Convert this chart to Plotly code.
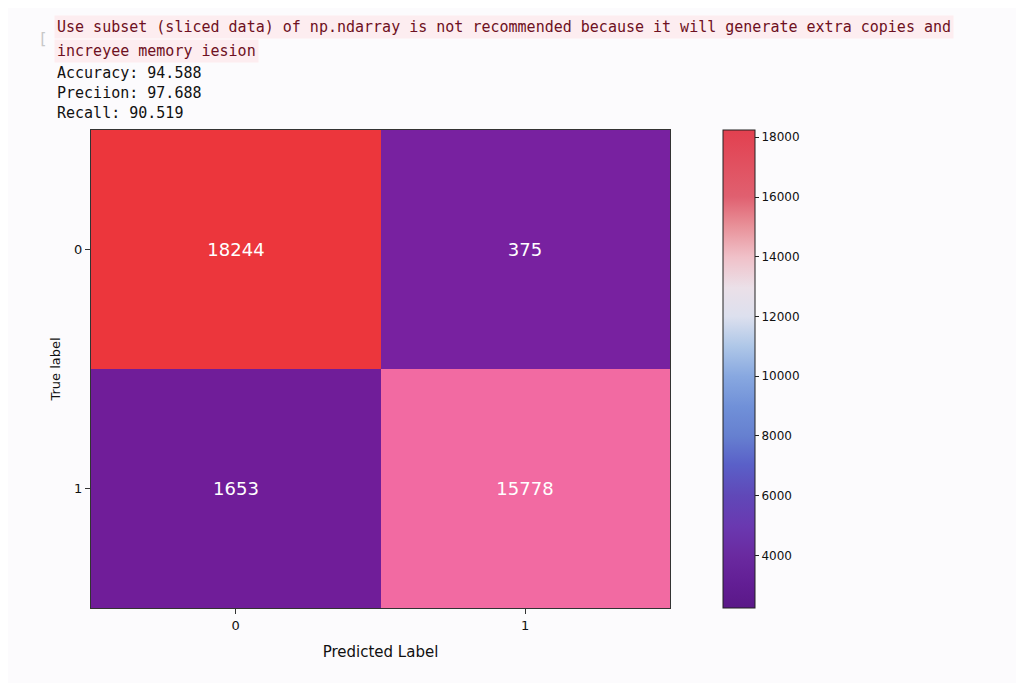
import plotly.graph_objects as go

# confusion matrix values
classes = ["0", "1"]
cm_values = [[18244, 375],
             [1653, 15778]]

# printed metrics above the plot
warning_lines = [
    "Use subset (sliced data) of np.ndarray is not recommended because it will generate extra copies and",
    "increyee memory iesion",
]
metric_lines = ["Accuracy: 94.588", "Preciion: 97.688", "Recall: 90.519"]

cbar_min, cbar_max = 2240, 18244
cbar_ticks = [4000, 6000, 8000, 10000, 12000, 14000, 16000, 18000]

W, H = 1024, 683
OFF = 8  # page body margin
L, R, T, B = 91 - OFF, 670 - OFF, 130 - OFF, 608 - OFF


def px(x):
    return (x - OFF - L) / (R - L)


def py(y):
    return (B - (y - OFF)) / (B - T)


fig = go.Figure()

# cells
fig.add_trace(go.Heatmap(
    z=cm_values, x=classes, y=classes,
    zmin=0, zmax=max(max(r) for r in cm_values),
    colorscale=[[0.0, "#7a22a2"], [0.1, "#6f1c98"], [0.5, "#b8449e"],
                [0.865, "#f26aa2"], [1.0, "#ec363c"]],
    showscale=False,
    texttemplate="%{z:d}",
    textfont=dict(family="DejaVu Sans", size=18, color="white"),
    hovertemplate="True: %{y}<br>Pred: %{x}<br>%{z}<extra></extra>",
))

# colorbar only
fig.add_trace(go.Scatter(
    x=[None], y=[None], mode="markers", showlegend=False,
    marker=dict(
        color=[cbar_min], cmin=cbar_min, cmax=cbar_max,
        colorscale=[[0.0, "#5a1888"], [0.05, "#621e94"], [0.11, "#6a2aa0"],
                    [0.17, "#6a38b0"], [0.235, "#6048b8"], [0.30, "#5a60c8"],
                    [0.36, "#6680d0"], [0.42, "#7090d8"], [0.485, "#88a8e0"],
                    [0.55, "#b0c8e8"], [0.61, "#dde0ee"], [0.67, "#ebe0e8"],
                    [0.735, "#f0c0c8"], [0.80, "#e89098"], [0.86, "#e06070"],
                    [1.0, "#e2404f"]],
        showscale=True,
        colorbar=dict(
            x=px(723), xanchor="left", xpad=0,
            y=0, yanchor="bottom", ypad=0,
            len=1, lenmode="fraction", thickness=32,
            outlinewidth=1, outlinecolor="#222",
            tickvals=cbar_ticks, tickformat="d",
            ticks="outside", ticklen=4, tickcolor="#222",
            tickfont=dict(family="DejaVu Sans", size=12, color="#111"),
        ),
    ),
))

annotations = []
mono = "DejaVu Sans Mono"
# little gray bracket of the notebook output
annotations.append(dict(x=px(36), y=py(27), xref="paper", yref="paper",
                        text="[", showarrow=False, xanchor="left",
                        font=dict(family=mono, size=16, color="#c8c8c8")))
for i, line in enumerate(warning_lines):
    annotations.append(dict(
        x=px(54), y=py(27 + 24 * i), xref="paper", yref="paper",
        text=line, showarrow=False, xanchor="left", yanchor="middle",
        bgcolor="#fdedf0", borderpad=2,
        font=dict(family=mono, size=15, color="#6e1022")))
for i, line in enumerate(metric_lines):
    annotations.append(dict(
        x=px(55), y=py(73 + 20 * i), xref="paper", yref="paper",
        text=line, showarrow=False, xanchor="left", yanchor="middle",
        font=dict(family=mono, size=15, color="#111")))

fig.update_layout(
    width=W, height=H,
    margin=dict(l=L, r=W - R, t=T, b=H - B),
    paper_bgcolor="#fcfbfd", plot_bgcolor="#fcfbfd",
    font=dict(family="DejaVu Sans", color="#111"),
    annotations=annotations,
    xaxis=dict(
        title=dict(text="Predicted Label", font=dict(size=15), standoff=14),
        tickfont=dict(size=13), ticks="outside", ticklen=5, tickcolor="#333",
        showline=True, linecolor="#333", linewidth=1, mirror=True,
        showgrid=False, zeroline=False,
    ),
    yaxis=dict(
        title=dict(text="True label", font=dict(size=13), standoff=10),
        tickfont=dict(size=13), ticks="outside", ticklen=5, tickcolor="#333",
        showline=True, linecolor="#333", linewidth=1, mirror=True,
        showgrid=False, zeroline=False, autorange="reversed",
    ),
)

fig.write_html("out.html", config={"displayModeBar": False})
